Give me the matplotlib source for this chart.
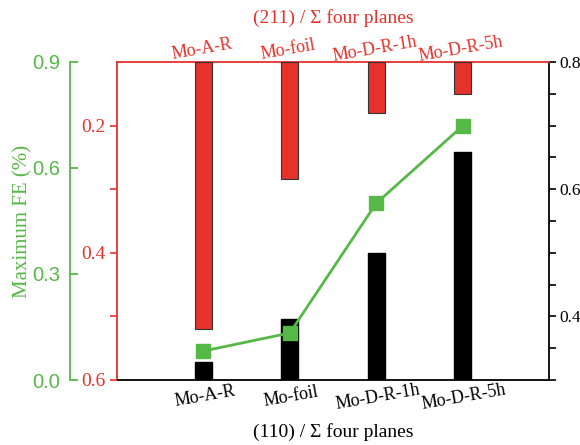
import matplotlib
matplotlib.use("Agg")
import matplotlib.pyplot as plt
import numpy as np

categories = ["Mo-A-R", "Mo-foil", "Mo-D-R-1h", "Mo-D-R-5h"]
ratio_211 = [0.52, 0.284, 0.18, 0.15]     # (211)/sum, hanging from top (inverted red axis)
ratio_110 = [0.328, 0.396, 0.50, 0.658]   # (110)/sum, black bars (right axis)
max_fe = [0.082, 0.133, 0.50, 0.719]      # Maximum FE (%), green line

RED = "#E5322B"
GREEN = "#56B847"
serif = "Liberation Serif"
sans = "Liberation Sans"

W, H = 580, 445
fig = plt.figure(figsize=(W / 100, H / 100), dpi=100)
L, R, T, B = 117, 549, 62, 380
ax = fig.add_axes([L / W, (H - B) / H, (R - L) / W, (B - T) / H])

x = np.arange(1, len(categories) + 1)

# black bars: (110) ratio on right axis
ax.bar(x, np.array(ratio_110) - 0.3, bottom=0.3, width=0.2, color="black", edgecolor="black", zorder=2)
ax.set_xlim(0, 5)
ax.set_ylim(0.3, 0.8)

# red bars: (211) ratio, inverted axis on left
axr = ax.twinx()
axr.bar(x, np.array(ratio_211) - 0.1, bottom=0.1, width=0.2, color=RED, edgecolor="#333333",
        linewidth=0.8, zorder=2)
axr.set_ylim(0.6, 0.1)

# green line: maximum FE on offset left axis
axg = ax.twinx()
axg.plot(x, max_fe, color=GREEN, lw=2, marker="s", ms=10, mfc=GREEN, mec=GREEN, zorder=5)
axg.set_ylim(0, 0.9)

# --- right axis (black) ---
ax.yaxis.tick_right()
ax.set_yticks([0.4, 0.6, 0.8])
ax.set_yticks(np.arange(0.3, 0.8001, 0.05), minor=True)
ax.tick_params(axis="y", which="both", direction="out", length=5, width=1.2, colors="black",
               labelsize=12.5, pad=2.5, left=False, labelleft=False, right=True, labelright=True)
for lab in ax.get_yticklabels():
    lab.set_fontfamily(serif)
ax.set_xticks(x)
ax.set_xticklabels(categories, rotation=10, fontfamily=serif, fontsize=13, color="black",
                   rotation_mode="anchor", ha="center", va="top")
ax.tick_params(axis="x", length=0, pad=6)
for s in ["bottom", "right"]:
    ax.spines[s].set_color("black")
    ax.spines[s].set_linewidth(1.3)
for s in ["top", "left"]:
    ax.spines[s].set_color(RED)
    ax.spines[s].set_linewidth(1.3)

# --- red left axis ---
axr.yaxis.tick_left()
axr.set_yticks([0.2, 0.4, 0.6])
axr.set_yticks([0.3, 0.5], minor=True)
axr.tick_params(axis="y", which="both", direction="out", length=5, width=1.2, colors=RED,
                labelsize=14, pad=3, right=False, labelright=False)
for lab in axr.get_yticklabels():
    lab.set_fontfamily(serif)
for s in axr.spines.values():
    s.set_visible(False)

sec = ax.secondary_xaxis("top")
sec.set_xticks(x)
sec.set_xticklabels(categories, rotation=10, fontfamily=serif, fontsize=13, color=RED,
                    rotation_mode="anchor", ha="center", va="bottom")
sec.tick_params(axis="x", length=0, pad=3)
sec.spines["top"].set_visible(False)

# --- green axis ---
axg.yaxis.tick_left()
axg.yaxis.set_label_position("left")
for s in ["top", "right", "bottom"]:
    axg.spines[s].set_visible(False)
axg.spines["left"].set_visible(True)
axg.spines["left"].set_position(("axes", (70 - L) / (R - L)))
axg.spines["left"].set_color(GREEN)
axg.spines["left"].set_linewidth(1.3)
axg.set_yticks([0.0, 0.3, 0.6, 0.9])
axg.tick_params(axis="y", direction="in", length=6, width=1.3, colors=GREEN, labelsize=14.5, pad=7,
                right=False, labelright=False)
for lab in axg.get_yticklabels():
    lab.set_fontfamily(sans)
axg.set_ylabel("Maximum FE (%)", color=GREEN, fontfamily=serif, fontsize=15, labelpad=0)

fig.text((L + R) / 2 / W, 1 - 18 / H, "(211) / \u03A3 four planes", color=RED, fontfamily=serif,
         fontsize=14, ha="center", va="center")
fig.text((L + R) / 2 / W, 1 - 432 / H, "(110) / \u03A3 four planes", color="black", fontfamily=serif,
         fontsize=14, ha="center", va="center")

fig.savefig("out.png", dpi=100, facecolor="white")
